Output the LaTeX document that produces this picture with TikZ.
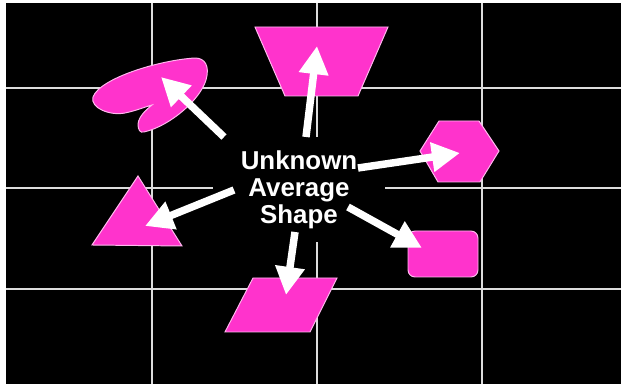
\documentclass[tikz,border=0pt]{standalone}
\usepackage{fontspec}
\setmainfont{Liberation Sans}
\usetikzlibrary{arrows.meta}
\definecolor{avGrid}{HTML}{DCDCDC}
\definecolor{avPink}{HTML}{FF33CC}
\definecolor{avEdge}{HTML}{FFB8EE}

\begin{document}
\begin{tikzpicture}[
  x=.025cm,y=-.025cm,
  gridline/.style={draw=avGrid, line width=1.8pt},
  pinkshape/.style={fill=avPink, draw=avEdge, line width=.7pt},
  centretext/.style={fill=black, text=white, align=center,
                     font=\bfseries\fontsize{18.4}{19.1}\selectfont,
                     inner xsep=.69cm, inner ysep=.34cm},
  pointer/.style={draw=white, line width=5.3pt,
                  -{Triangle[length=20pt,width=20pt]}},
]
  \path[use as bounding box] (0,0) rectangle (621,386);
  \fill[black] (6,3) rectangle (621,384);

  % grid behind everything
  \foreach \x in {152,317,482} {
    \draw[gridline] (\x,3) -- (\x,384);
  }
  \foreach \y in {88,188,289} {
    \draw[gridline] (6,\y) -- (621,\y);
  }

  % the question in the middle
  \node[centretext] (avg) at (299,189.5) {Unknown\\Average\\Shape};

  % the candidate shapes
  \draw[pinkshape] (152,105) .. controls (146,110) and (139,116) .. (138,124)
    .. controls (138,130) and (140,133) .. (144,132)
    .. controls (170,126) and (200,100) .. (206,80)
    .. controls (210,66) and (205,58) .. (195,58)
    .. controls (160,60) and (100,78) .. (93,97)
    .. controls (90,108) and (110,116) .. (125,113)
    .. controls (135,111) and (145,107) .. (152,105) -- cycle;
  \draw[pinkshape] (255,27) -- (388,27) -- (358,96) -- (285,96) -- cycle;
  \draw[pinkshape] (420,151) -- (439,121) -- (479,121) -- (499,151) --
    (480,182) -- (438,182) -- cycle;
  \draw[pinkshape] (138,176) -- (182,246) -- (92,245) -- cycle;
  \draw[pinkshape] (253,278) -- (337,278) -- (310,332) -- (225,332) -- cycle;
  \draw[pinkshape, rounded corners=5pt] (408,231) rectangle (478,277);

  % arrow ends
  \coordinate (blob-tail) at (224,137);
  \coordinate (blob-tip) at (161,77);
  \coordinate (trap-tail) at (306,137);
  \coordinate (trap-tip) at (317,46);
  \coordinate (hex-tail) at (358,168);
  \coordinate (hex-tip) at (460,153);
  \coordinate (tri-tail) at (234,190);
  \coordinate (tri-tip) at (145,226);
  \coordinate (rect-tail) at (348,207);
  \coordinate (rect-tip) at (422,248);
  \coordinate (para-tail) at (295,232);
  \coordinate (para-tip) at (286,295);

  \foreach \s in {blob,trap,hex,tri,rect,para} {
    \draw[pointer] (\s-tail) -- (\s-tip);
  }
\end{tikzpicture}
\end{document}
